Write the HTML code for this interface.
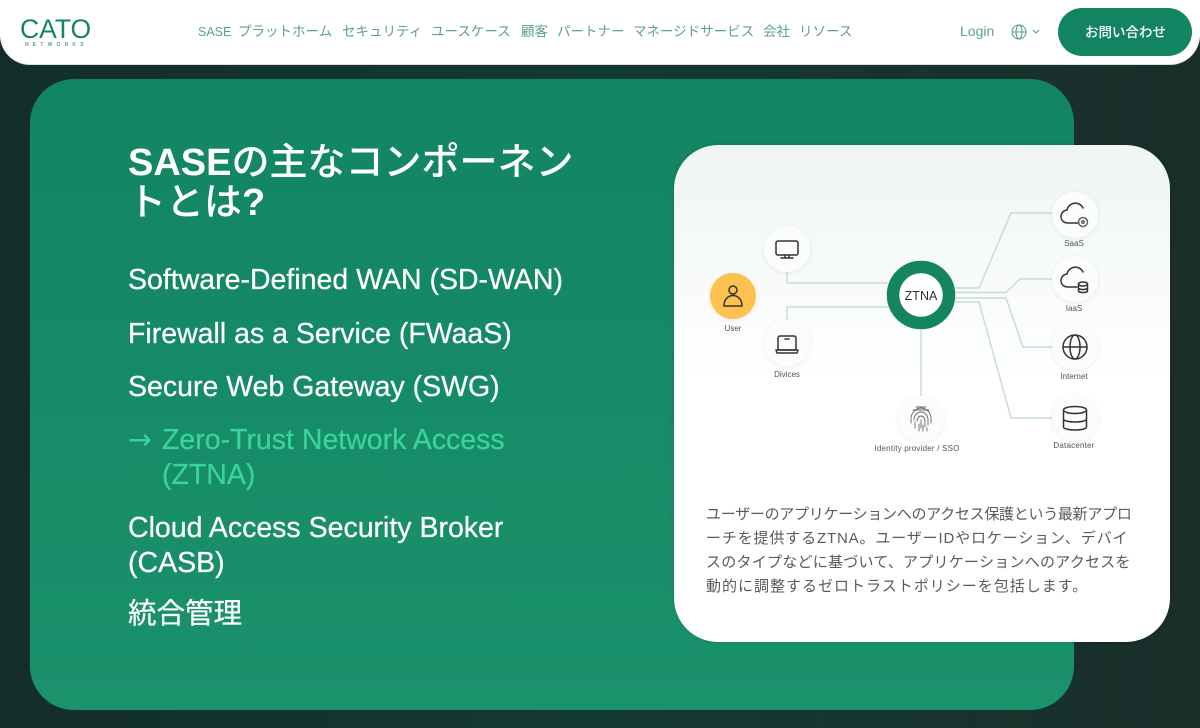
<!DOCTYPE html>
<html lang="ja"><head><meta charset="utf-8"><title>SASE</title>
<style>
html,body{margin:0;padding:0}
body{width:1200px;height:728px;overflow:hidden;position:relative;background:linear-gradient(90deg,#132e2a 0%,#133a32 50%,#1a2e2a 100%);font-family:"Liberation Sans","Noto Sans CJK JP",sans-serif}
.t{position:absolute;white-space:nowrap;line-height:1}
#nav{position:absolute;left:0;top:-20px;width:1200px;height:85px;background:#fff;border-radius:0 0 30px 30px;border-bottom:1px solid #ddd;box-sizing:border-box}
.n{color:#5ba28c;font-size:13.5px;top:25px}
#panel{position:absolute;left:30px;top:79px;width:1044px;height:631px;border-radius:44px;background:linear-gradient(180deg,#128462,#1a926c)}
.h{color:#fff;font-size:38px;font-weight:500}
.h b{font-weight:700}
.m{color:#fff;font-size:28.5px;-webkit-text-stroke:.25px currentColor}
#card{position:absolute;left:674px;top:145px;width:496px;height:497px;border-radius:44px;background:linear-gradient(180deg,#eff5f4 0%,#fff 48%);box-shadow:0 0 4px rgba(0,0,0,.15)}
.p{color:#5a5a5a;font-size:15px;left:706px}
</style></head><body>
<div id="nav"></div>
<div class="t" style="left:20px;top:16px;font-size:26.5px;color:#15855f">CATO</div>
<div class="t" style="left:25px;top:43px;font-size:5px;font-weight:700;color:#5ba28c;letter-spacing:4.2px">NETWORKS</div>
<div class="t n" style="left:198px;font-size:12.5px;top:26px">SASE</div>
<div class="t n" style="left:238px">プラットホーム</div>
<div class="t n" style="left:342px">セキュリティ</div>
<div class="t n" style="left:431px">ユースケース</div>
<div class="t n" style="left:521px">顧客</div>
<div class="t n" style="left:557px">パートナー</div>
<div class="t n" style="left:633px">マネージドサービス</div>
<div class="t n" style="left:763px">会社</div>
<div class="t n" style="left:799px">リソース</div>
<div class="t n" style="left:960px;font-size:14px;top:24px">Login</div>
<svg style="position:absolute;left:1010px;top:22px" width="34" height="20" fill="none" stroke="#4f9a83"><circle cx="9" cy="10" r="7"/><ellipse cx="9" cy="10" rx="3" ry="7"/><path d="M2 10h14"/><path d="M23 8l3 3 3-3"/></svg>
<div style="position:absolute;left:1058px;top:8px;width:134px;height:48px;border-radius:24px;background:#128462"></div>
<div class="t" style="left:1085px;top:26px;color:#fff;font-size:13.5px;font-weight:500;width:80px;text-align:center">お問い合わせ</div>
<div id="panel"></div>
<div class="t h" style="left:128px;top:144px"><b>SASE</b>の主なコンポーネン</div>
<div class="t h" style="left:128px;top:184px">トとは<b>?</b></div>
<div class="t m" style="left:128px;top:266px">Software-Defined WAN (SD-WAN)</div>
<div class="t m" style="left:128px;top:320px">Firewall as a Service (FWaaS)</div>
<div class="t m" style="left:128px;top:373px">Secure Web Gateway (SWG)</div>
<div class="t m" style="left:128px;top:426px;color:#3bd39c;font-family:'DejaVu Sans',sans-serif;-webkit-text-stroke:0">→</div>
<div class="t m" style="left:162px;top:426px;color:#3bd39c">Zero-Trust Network Access</div>
<div class="t m" style="left:162px;top:461px;color:#3bd39c">(ZTNA)</div>
<div class="t m" style="left:128px;top:514px">Cloud Access Security Broker</div>
<div class="t m" style="left:128px;top:549px">(CASB)</div>
<div class="t m" style="left:128px;top:600px">統合管理</div>
<div id="card"></div>
<svg style="position:absolute;left:0;top:0" width="1200" height="728" fill="none">
<defs><filter id="s" x="-30%" y="-30%" width="160%" height="160%"><feDropShadow dx="0" dy="1" stdDeviation="2" flood-color="#000" flood-opacity=".08"/></filter></defs>
<g stroke="#c4dcd6" stroke-width="1.4">
<path d="M787 272V283H888M787 320V307H888M921 330V396M955 288H979L1011 213H1052M955 292.500H1006L1020 279H1052M955 298H1006L1023 347H1052M955 302H979L1011 418H1052"/>
</g>
<g filter="url(#s)" fill="#fbfcfc">
<circle cx="787" cy="249" r="23"/><circle cx="787" cy="343" r="23"/><circle cx="921" cy="419" r="23"/><circle cx="1075" cy="215" r="23"/><circle cx="1075" cy="279" r="23"/><circle cx="1075" cy="347" r="23"/><circle cx="1075" cy="418" r="23"/>
<circle cx="733" cy="296" r="23" fill="#fdc150"/>
</g>
<circle cx="921" cy="295" r="28" fill="#fff" stroke="#15855f" stroke-width="12.500"/>
<g stroke="#333" stroke-width="1.500" stroke-linecap="round" stroke-linejoin="round">
<rect x="776" y="241" width="22" height="14" rx="2"/><path d="M785 255v3M789 255v3M781 258h12"/>
<rect x="778" y="336" width="18" height="14" rx="2"/><path d="M776 350h22l-1 3h-20zM785 339h4"/>
<circle cx="733" cy="290" r="4"/><path d="M724 306c0-14 18-14 18 0zM724 306h18"/>
<path d="M1079 223h-11a6.500 6.500 0 0 1 -1-13 8.500 8.500 0 0 1 16-2"/><circle cx="1083" cy="222" r="4.500" stroke="#666"/><circle cx="1083" cy="222" r="1.200" stroke="#666"/>
<path d="M1077 287h-9a6.500 6.500 0 0 1 -1-13 8.500 8.500 0 0 1 16-2"/><ellipse cx="1083" cy="284" rx="4.500" ry="2"/><path d="M1078.500 284v7c0 2 9 2 9 0v-7M1078.500 288c0 2 9 2 9 0"/>
<circle cx="1075" cy="347" r="12"/><ellipse cx="1075" cy="347" rx="5" ry="12"/><path d="M1064 347h22"/>
<ellipse cx="1075" cy="410" rx="11.500" ry="3.500"/><path d="M1063.500 410v17c0 4 23 4 23 0v-17M1063.500 419c0 4 23 4 23 0"/>
</g>
<g stroke="#666" stroke-width=".9" stroke-linecap="round">
<path d="M914 420a7 8 0 0 1 14 0v5M917 421a4 5 0 0 1 8 0v6M921 420v8M911 423v-4a10 11 0 0 1 20 0v4M915 428v-6M919 431v-7M923 431v-6M927 431v-3M916 407h10M913 410h16"/>
</g>
<g font-size="8" fill="#555" text-anchor="middle" font-family="Liberation Sans">
<text x="733" y="331">User</text><text x="787" y="377">Divices</text><text x="917" y="451" letter-spacing=".2">Identity provider / SSO</text>
<text x="1074" y="246">SaaS</text><text x="1074" y="311">IaaS</text><text x="1074" y="379">Internet</text><text x="1074" y="448" letter-spacing=".2">Datacenter</text>
</g>
<text x="921" y="300" font-size="12.500" fill="#333" text-anchor="middle" font-family="Liberation Sans">ZTNA</text>
</svg>
<div class="t p" style="top:507px;letter-spacing:-.28px">ユーザーのアプリケーションへのアクセス保護という最新アプロ</div>
<div class="t p" style="top:531px;letter-spacing:.85px">ーチを提供するZTNA。ユーザーIDやロケーション、デバイ</div>
<div class="t p" style="top:555px;letter-spacing:.25px">スのタイプなどに基づいて、アプリケーションへのアクセスを</div>
<div class="t p" style="top:579px;letter-spacing:1px">動的に調整するゼロトラストポリシーを包括します。</div>
</body></html>
